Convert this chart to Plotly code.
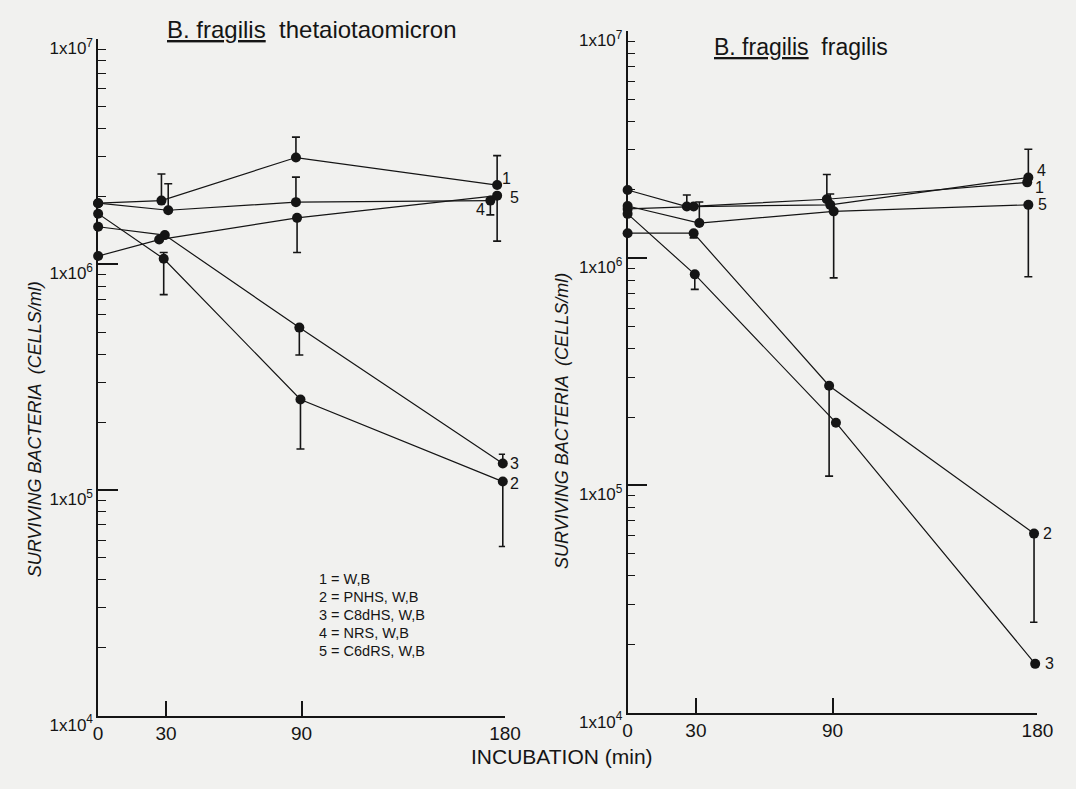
import math
import plotly.graph_objects as go

# ---------------- data ----------------
series_names = ["1", "2", "3", "4", "5"]
legend_lines = ["1 = W,B", "2 = PNHS, W,B", "3 = C8dHS, W,B", "4 = NRS, W,B", "5 = C6dRS, W,B"]
time_ticks = [0, 30, 90, 180]
time_labels = ["0", "30", "90", "180"]
y_ticks = [1e4, 1e5, 1e6, 1e7]
y_labels = ["1x10<sup>4</sup>", "1x10<sup>5</sup>", "1x10<sup>6</sup>", "1x10<sup>7</sup>"]

# Left panel: B. fragilis thetaiotaomicron  (x as drawn, slightly jittered)
theta_x1 = [0, 28, 87.5, 176.5]
theta_y1 = [1.87e6, 1.92e6, 2.98e6, 2.25e6]
theta_hi1 = [None, 2.52e6, 3.67e6, 3.04e6]
theta_lo1 = [None, None, None, None]

theta_x2 = [0, 29, 89.5, 179]
theta_y2 = [1.68e6, 1.06e6, 2.52e5, 1.09e5]
theta_hi2 = [None, 1.13e6, None, None]
theta_lo2 = [None, 7.35e5, 1.52e5, 5.62e4]

theta_x3 = [0, 29.5, 89, 179]
theta_y3 = [1.47e6, 1.35e6, 5.25e5, 1.31e5]
theta_hi3 = [None, None, None, 1.44e5]
theta_lo3 = [None, None, 3.97e5, None]

theta_x4 = [0, 31, 87.5, 173.5]
theta_y4 = [1.87e6, 1.74e6, 1.89e6, 1.92e6]
theta_hi4 = [None, 2.28e6, 2.44e6, None]
theta_lo4 = [None, None, None, 1.66e6]

theta_x5 = [0, 27, 88, 176.5]
theta_y5 = [1.09e6, 1.29e6, 1.61e6, 2.02e6]
theta_hi5 = [None, None, None, None]
theta_lo5 = [None, None, 1.13e6, 1.27e6]

# Right panel: B. fragilis fragilis
frag_x1 = [0, 26, 87.5, 175.5]
frag_y1 = [2.00e6, 1.69e6, 1.82e6, 2.16e6]
frag_hi1 = [None, 1.90e6, 2.34e6, None]
frag_lo1 = [None, None, None, None]

frag_x2 = [0, 29, 88.5, 178.5]
frag_y2 = [1.29e6, 1.29e6, 2.75e5, 6.14e4]
frag_hi2 = [None, None, None, None]
frag_lo2 = [None, 1.23e6, 1.10e5, 2.5e4]

frag_x3 = [0, 29.5, 91.5, 179]
frag_y3 = [1.57e6, 8.5e5, 1.89e5, 1.64e4]
frag_hi3 = [None, None, None, None]
frag_lo3 = [None, 7.3e5, None, None]

frag_x4 = [0, 29, 89, 176]
frag_y4 = [1.65e6, 1.69e6, 1.72e6, 2.27e6]
frag_hi4 = [None, None, 1.92e6, 3.02e6]
frag_lo4 = [None, None, None, None]

frag_x5 = [0, 31.5, 90.5, 176]
frag_y5 = [1.70e6, 1.43e6, 1.61e6, 1.72e6]
frag_hi5 = [None, 1.77e6, None, None]
frag_lo5 = [None, None, 8.2e5, 8.3e5]

# ---------------- figure ----------------
W, H = 1076, 789
INK = "#151515"
BG = "#f1f1ef"
FONT = "Liberation Sans"


def px(x):
    return x / W


def py(y):
    return (H - y) / H


fig = go.Figure()


def add_series(x, y, hi, lo, xa, ya):
    plus = [(h - v) if h is not None else 0 for h, v in zip(hi, y)]
    minus = [(v - l) if l is not None else 0 for l, v in zip(lo, y)]
    fig.add_trace(go.Scatter(
        x=x, y=y, mode="lines+markers", xaxis=xa, yaxis=ya,
        line=dict(color=INK, width=1.2),
        marker=dict(size=10, color=INK),
        error_y=dict(type="data", symmetric=False, array=plus, arrayminus=minus,
                     color=INK, thickness=1.6, width=4),
        cliponaxis=False, showlegend=False, hoverinfo="skip"))


theta = [(theta_x1, theta_y1, theta_hi1, theta_lo1),
         (theta_x2, theta_y2, theta_hi2, theta_lo2),
         (theta_x3, theta_y3, theta_hi3, theta_lo3),
         (theta_x4, theta_y4, theta_hi4, theta_lo4),
         (theta_x5, theta_y5, theta_hi5, theta_lo5)]
frag = [(frag_x1, frag_y1, frag_hi1, frag_lo1),
        (frag_x2, frag_y2, frag_hi2, frag_lo2),
        (frag_x3, frag_y3, frag_hi3, frag_lo3),
        (frag_x4, frag_y4, frag_hi4, frag_lo4),
        (frag_x5, frag_y5, frag_hi5, frag_lo5)]

for s in theta:
    add_series(*s, "x", "y")
for s in frag:
    add_series(*s, "x2", "y2")

minor_vals = [m * 10 ** e for e in (4, 5, 6) for m in range(2, 10)]


def xaxis_style(domain, anchor):
    return dict(domain=domain, anchor=anchor, range=[0, 180],
                tickmode="array", tickvals=time_ticks, ticktext=time_labels,
                ticks="inside", ticklen=15, tickwidth=1.5, tickcolor=INK,
                showline=True, linecolor=INK, linewidth=1.5,
                showgrid=False, zeroline=False,
                tickfont=dict(family=FONT, size=19, color=INK))


def yaxis_style(domain, anchor):
    return dict(domain=domain, anchor=anchor, type="log", range=[4, 7],
                tickmode="array", tickvals=y_ticks, ticktext=y_labels,
                ticks="inside", ticklen=20, tickwidth=1.5, tickcolor=INK,
                minor=dict(ticks="inside", ticklen=8, tickwidth=1.3, tickcolor=INK,
                           tickmode="array", tickvals=minor_vals, showgrid=False),
                showline=True, linecolor=INK, linewidth=1.5,
                showgrid=False, zeroline=False, ticklabelshift=9,
                tickfont=dict(family=FONT, size=17, color=INK))


fig.update_layout(
    width=W, height=H, autosize=False,
    margin=dict(l=0, r=0, t=0, b=0),
    paper_bgcolor=BG, plot_bgcolor=BG,
    font=dict(family=FONT, color=INK),
    xaxis=xaxis_style([px(95), px(510)], "y"),
    yaxis=yaxis_style([py(733), py(37)], "x"),
    xaxis2=xaxis_style([px(635), px(1053)], "y2"),
    yaxis2=yaxis_style([py(730), py(29)], "x2"),
)


def text_at(text, x, y, size, xanchor="center", angle=0):
    return dict(text=text, x=px(x), y=py(y), xref="paper", yref="paper",
                xanchor=xanchor, yanchor="middle", showarrow=False, textangle=angle,
                font=dict(family=FONT, size=size, color=INK))


ann = []
# panel titles
ann.append(text_at("<u>B. fragilis</u>  thetaiotaomicron", 313, 27, 24))
ann.append(text_at("<u>B. fragilis</u>  fragilis", 812, 45, 23))
# y axis titles
ann.append(text_at("<i>SURVIVING BACTERIA  (CELLS/ml)</i>", 30, 438, 18, angle=-90))
ann.append(text_at("<i>SURVIVING BACTERIA  (CELLS/ml)</i>", 568, 430, 18, angle=-90))
# x axis title
ann.append(text_at("INCUBATION (min)", 568, 775, 21))
# key
for i, line in enumerate(legend_lines):
    ann.append(text_at(line, 318, 593 + 18.5 * i, 14.5, xanchor="left"))

# series number labels at the last point of each line
theta_shift = {"1": (9, 7), "2": (12, -2), "3": (12, 0), "4": (-10, -9), "5": (17, -2)}
frag_shift = {"1": (12, -5), "2": (13, 0), "3": (14, 0), "4": (13, 7), "5": (14, 0)}
for name, s in zip(series_names, theta):
    dx, dy = theta_shift[name]
    ann.append(dict(text=name, x=s[0][-1], y=math.log10(s[1][-1]),
                    xref="x", yref="y", showarrow=False, xshift=dx, yshift=dy,
                    xanchor="center", yanchor="middle",
                    font=dict(family=FONT, size=16, color=INK)))
for name, s in zip(series_names, frag):
    dx, dy = frag_shift[name]
    ann.append(dict(text=name, x=s[0][-1], y=math.log10(s[1][-1]),
                    xref="x2", yref="y2", showarrow=False, xshift=dx, yshift=dy,
                    xanchor="center", yanchor="middle",
                    font=dict(family=FONT, size=16, color=INK)))

fig.update_layout(annotations=ann)
fig.write_html("out.html")
